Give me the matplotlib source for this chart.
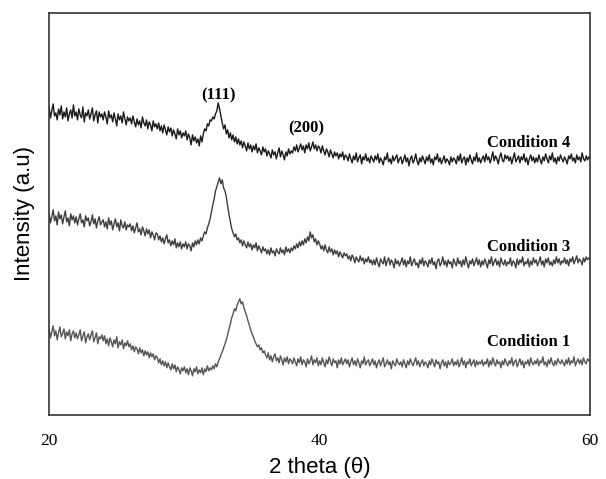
import numpy as np
import matplotlib
matplotlib.use("Agg")
import matplotlib.pyplot as plt

# 2 theta grid, 20 to 60 deg, step 0.1
two_theta = np.round(np.arange(200, 601) / 10.0, 1)

# intensity (a.u., curves already stacked)
cond4 = [
    308, 297, 304, 311, 299, 302, 295, 306, 300, 309, 296, 303, 298, 307, 294, 301, 305, 297, 310, 299,
    303, 295, 306, 300, 297, 308, 293, 302, 299, 305, 296, 301, 307, 294, 300, 304, 292, 303, 298, 301,
    295, 303, 298, 291, 304, 297, 300, 293, 302, 296, 289, 301, 295, 299, 292, 303, 296, 290, 298, 294,
    297, 291, 299, 293, 288, 296, 290, 294, 287, 298, 292, 289, 295, 286, 293, 290, 284, 294, 288, 291,
    286, 292, 284, 289, 282, 290, 285, 280, 288, 283, 287, 279, 285, 281, 276, 286, 280, 284, 277, 282,
    279, 284, 275, 281, 277, 270, 280, 274, 278, 272, 276, 269, 279, 273, 281, 286, 284, 291, 289, 295,
    294, 298, 296, 301, 304, 312, 306, 299, 292, 286, 290, 281, 285, 277, 282, 275, 280, 273, 278, 271,
    276, 270, 274, 267, 273, 269, 264, 272, 266, 270, 263, 269, 265, 271, 262, 267, 264, 260, 268, 263,
    266, 259, 264, 261, 257, 265, 260, 263, 256, 262, 267, 258, 264, 260, 255, 263, 259, 266, 261, 264,
    262, 268, 264, 270, 263, 267, 271, 265, 269, 262, 270, 266, 272, 264, 268, 273, 266, 270, 264, 269,
    267, 262, 269, 264, 260, 266, 263, 258, 265, 261, 257, 263, 259, 262, 256, 261, 258, 263, 255, 260,
    258, 254, 261, 256, 252, 259, 255, 262, 253, 257, 260, 251, 258, 255, 261, 254, 257, 252, 259, 256,
    253, 259, 255, 261, 252, 257, 254, 250, 258, 255, 262, 253, 256, 251, 259, 254, 257, 260, 252, 256,
    258, 251, 255, 260, 253, 257, 249, 256, 259, 252, 255, 261, 254, 250, 257, 253, 259, 255, 251, 258,
    254, 260, 252, 256, 250, 258, 255, 261, 253, 257, 251, 255, 259, 252, 256, 254, 250, 258, 253, 257,
    255, 251, 259, 254, 261, 252, 256, 258, 250, 257, 253, 260, 255, 251, 258, 254, 262, 253, 257, 252,
    256, 259, 253, 261, 255, 258, 252, 257, 263, 254, 259, 256, 251, 258, 262, 255, 253, 260, 256, 259,
    254, 258, 251, 257, 262, 253, 256, 259, 252, 258, 255, 261, 253, 257, 250, 256, 260, 254, 258, 252,
    257, 253, 260, 255, 251, 258, 254, 261, 256, 252, 259, 255, 262, 253, 257, 251, 258, 254, 260, 256,
    253, 258, 255, 251, 259, 256, 261, 254, 257, 252, 260, 255, 258, 253, 262, 256, 254, 259, 255, 258,
    257,
]

cond3 = [
    201, 192, 198, 205, 194, 199, 190, 203, 196, 200, 191, 198, 204, 193, 197, 189, 201, 195, 199, 192,
    198, 190, 196, 201, 192, 195, 188, 199, 194, 197, 189, 193, 200, 191, 196, 187, 194, 198, 190, 193,
    195, 188, 193, 186, 197, 190, 194, 185, 191, 196, 188, 192, 184, 195, 189, 187, 193, 185, 190, 188,
    191, 184, 189, 182, 187, 192, 183, 186, 180, 188, 184, 179, 186, 181, 185, 177, 183, 180, 175, 182,
    181, 175, 179, 173, 177, 171, 176, 180, 172, 175, 169, 174, 170, 176, 167, 172, 168, 173, 166, 171,
    168, 173, 166, 171, 169, 164, 172, 168, 174, 170, 175, 171, 177, 174, 179, 183, 181, 187, 191, 196,
    203, 210, 216, 224, 228, 233, 237, 231, 235, 227, 224, 218, 209, 200, 193, 186, 182, 178, 181, 175,
    177, 172, 175, 169, 174, 170, 167, 173, 168, 171, 165, 170, 167, 172, 164, 169, 166, 162, 168, 164,
    166, 161, 165, 160, 167, 162, 164, 159, 166, 163, 161, 167, 162, 165, 160, 168, 163, 166, 162, 167,
    164, 169, 166, 171, 167, 173, 169, 174, 170, 176, 172, 178, 174, 183, 177, 180, 173, 176, 170, 174,
    171, 166, 169, 164, 170, 165, 162, 168, 163, 166, 160, 165, 161, 164, 158, 163, 160, 157, 162, 159,
    161, 156, 159, 154, 160, 157, 152, 158, 155, 153, 159, 154, 157, 151, 156, 153, 158, 152, 155, 150,
    155, 150, 157, 152, 148, 156, 153, 151, 158, 149, 154, 157, 150, 155, 152, 147, 156, 151, 154, 149,
    153, 157, 150, 155, 148, 154, 151, 158, 149, 153, 156, 150, 152, 147, 155, 151, 157, 149, 154, 152,
    148, 155, 151, 157, 150, 153, 146, 154, 156, 149, 152, 158, 150, 154, 148, 155, 151, 153, 147, 156,
    152, 149, 157, 151, 154, 148, 155, 150, 158, 152, 147, 154, 151, 156, 149, 153, 157, 150, 155, 148,
    154, 150, 156, 152, 147, 155, 151, 158, 149, 153, 156, 150, 154, 148, 157, 152, 150, 155, 149, 153,
    151, 157, 149, 154, 152, 147, 156, 150, 155, 152, 158, 149, 153, 151, 156, 148, 154, 150, 157, 152,
    155, 149, 153, 158, 150, 154, 148, 156, 152, 157, 150, 153, 149, 155, 151, 158, 152, 156, 150, 154,
    152, 157, 151, 155, 149, 156, 153, 158, 151, 155, 159, 152, 156, 154, 150, 157, 153, 158, 155, 157,
    156,
]

cond1 = [
    86, 77, 83, 89, 79, 84, 75, 82, 88, 78, 81, 86, 76, 83, 79, 85, 74, 81, 84, 77,
    82, 76, 80, 85, 74, 79, 83, 72, 78, 81, 75, 80, 84, 73, 77, 82, 71, 78, 76, 80,
    74, 79, 71, 76, 69, 77, 73, 68, 75, 71, 78, 67, 73, 70, 75, 66, 72, 69, 74, 68,
    71, 65, 69, 63, 68, 66, 61, 67, 62, 65, 59, 64, 60, 63, 57, 62, 58, 61, 55, 59,
    57, 52, 56, 50, 54, 49, 53, 47, 52, 48, 45, 51, 46, 50, 43, 48, 45, 41, 47, 44,
    48, 42, 46, 40, 47, 44, 39, 46, 43, 48, 41, 45, 42, 47, 40, 46, 43, 49, 44, 47,
    45, 49, 46, 51, 48, 53, 56, 60, 63, 67, 71, 75, 80, 86, 91, 97, 101, 106, 104, 110,
    113, 116, 111, 113, 107, 103, 99, 94, 90, 85, 81, 78, 74, 71, 68, 70, 65, 67, 62, 64,
    60, 57, 62, 55, 59, 53, 58, 61, 54, 57, 52, 59, 55, 50, 57, 53, 58, 51, 56, 54,
    51, 57, 53, 49, 56, 52, 58, 50, 55, 53, 48, 56, 51, 54, 59, 50, 55, 52, 57, 49,
    54, 50, 57, 52, 48, 55, 51, 58, 53, 49, 56, 52, 54, 47, 55, 51, 57, 50, 53, 56,
    51, 55, 48, 53, 57, 50, 54, 49, 56, 52, 47, 54, 51, 58, 50, 53, 55, 49, 52, 56,
    50, 54, 47, 52, 55, 49, 53, 57, 48, 51, 55, 50, 53, 46, 54, 51, 49, 56, 52, 50,
    53, 48, 55, 51, 47, 54, 50, 56, 52, 49, 53, 57, 50, 54, 48, 52, 55, 49, 53, 51,
    47, 54, 50, 56, 52, 48, 55, 51, 53, 46, 52, 55, 49, 53, 47, 54, 50, 52, 56, 49,
    53, 50, 55, 48, 52, 57, 50, 54, 47, 53, 51, 56, 49, 52, 55, 48, 54, 50, 53, 51,
    55, 49, 53, 51, 56, 48, 54, 50, 57, 52, 49, 55, 51, 53, 47, 54, 50, 56, 52, 49,
    54, 51, 57, 49, 53, 55, 48, 52, 56, 50, 54, 47, 53, 51, 55, 49, 57, 52, 50, 54,
    51, 56, 49, 54, 52, 58, 50, 53, 48, 55, 51, 57, 52, 49, 54, 50, 56, 53, 51, 55,
    52, 49, 55, 51, 57, 50, 54, 52, 58, 49, 53, 56, 51, 55, 50, 57, 53, 51, 56, 54,
    55,
]

labels = ["Condition 4", "Condition 3", "Condition 1"]
peaks = ["(111)", "(200)"]

fig = plt.figure(figsize=(6.06, 4.79), dpi=100)
ax = fig.add_axes([0.081, 0.134, 0.893, 0.839])

ax.plot(two_theta, cond4, color="#1a1a1a", lw=1.0)
ax.plot(two_theta, cond3, color="#3e3e3e", lw=1.0)
ax.plot(two_theta, cond1, color="#555555", lw=1.0)

serif = "Liberation Serif"
ax.text(58.5, 272, labels[0], ha="right", va="center", family=serif,
        fontweight="bold", fontsize=12)
ax.text(58.5, 168, labels[1], ha="right", va="center", family=serif,
        fontweight="bold", fontsize=12)
ax.text(58.5, 73, labels[2], ha="right", va="center", family=serif,
        fontweight="bold", fontsize=12)
ax.text(32.5, 320, peaks[0], ha="center", va="center", family=serif,
        fontweight="bold", fontsize=12)
ax.text(39.0, 287, peaks[1], ha="center", va="center", family=serif,
        fontweight="bold", fontsize=12)

ax.set_xlim(20, 60)
ax.set_ylim(0, 402)
ax.set_xticks([20, 40, 60])
ax.set_yticks([])
ax.tick_params(axis="x", length=0, pad=13)
for lab in ax.get_xticklabels():
    lab.set_family(serif)
    lab.set_fontsize(12.5)
for sp in ax.spines.values():
    sp.set_color("#333333")
    sp.set_linewidth(1.2)

ax.set_xlabel("2 theta (θ)", family="Liberation Sans", fontsize=16, labelpad=6)
ax.set_ylabel("Intensity (a.u)", family="Liberation Sans", fontsize=16, labelpad=10)

fig.savefig("out.png", dpi=100)
